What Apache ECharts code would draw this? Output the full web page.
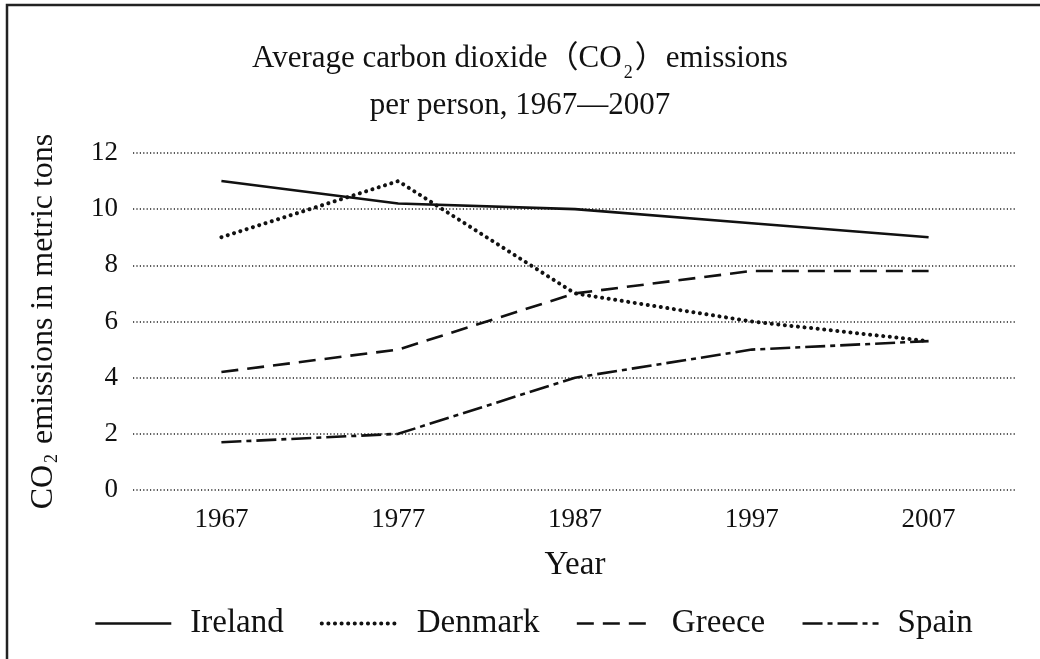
<!DOCTYPE html>
<html><head><meta charset="utf-8">
<script src="https://cdn.jsdelivr.net/npm/echarts@6/dist/echarts.min.js"></script>
<style>html,body{margin:0;padding:0;background:#fff}#c{width:1040px;height:659px}</style>
</head><body><div id="c"></div>
<script>
const years = ['1967', '1977', '1987', '1997', '2007'];
const ireland = [11.0, 10.2, 10.0, 9.5, 9.0];
const denmark = [9.0, 11.0, 7.0, 6.0, 5.3];
const greece = [4.2, 5.0, 7.0, 7.8, 7.8];
const spain = [1.7, 2.0, 4.0, 5.0, 5.3];
const yTicks = [0, 2, 4, 6, 8, 10, 12];

const FONT = '"Liberation Serif", "Noto Sans CJK JP", serif';
const chart = echarts.init(document.getElementById('c'), null, {renderer: 'canvas'});
const lineCommon = {type: 'line', symbol: 'none', silent: true, z: 3};
chart.setOption({
  animation: false,
  backgroundColor: '#fff',
  title: {
    text: 'Average carbon dioxide（CO{sub|2}）emissions\nper person, 1967—2007',
    left: 'center', top: 30,
    textStyle: {
      fontFamily: FONT, fontSize: 31, fontWeight: 'normal', color: '#111', lineHeight: 47,
      rich: {sub: {fontFamily: FONT, fontSize: 18, verticalAlign: 'bottom', padding: [16, 2, 0, 2], color: '#111'}}
    }
  },
  legend: {
    left: 94, top: 607, padding: 0,
    itemWidth: 76, itemHeight: 14, itemGap: 36,
    itemStyle: {opacity: 0, color: 'transparent', borderWidth: 0},
    lineStyle: {width: 'inherit'},
    textStyle: {fontFamily: FONT, fontSize: 33, color: '#111', padding: [0, 0, 0, 14]},
    data: ['Ireland', 'Denmark', 'Greece', 'Spain']
  },
  grid: {left: 133, right: 23, top: 153, bottom: 169},
  xAxis: {
    type: 'category', data: years, boundaryGap: true,
    axisLine: {show: false}, axisTick: {show: false},
    axisLabel: {fontFamily: FONT, fontSize: 27, color: '#111', margin: 16},
    name: 'Year', nameLocation: 'middle', nameGap: 59,
    nameTextStyle: {fontFamily: FONT, fontSize: 33, color: '#111', verticalAlign: 'top'}
  },
  yAxis: {
    type: 'value', min: yTicks[0], max: yTicks[yTicks.length - 1], interval: 2,
    axisLine: {show: false}, axisTick: {show: false},
    axisLabel: {fontFamily: FONT, fontSize: 27, color: '#111', margin: 15},
    splitLine: {show: true, lineStyle: {color: '#222', width: 1.6, type: [1.2, 2.2]}},
    name: 'CO{sub|2} emissions in metric tons', nameLocation: 'middle', nameGap: 72,
    nameTextStyle: {
      fontFamily: FONT, fontSize: 32, color: '#111',
      rich: {sub: {fontFamily: FONT, fontSize: 18, verticalAlign: 'bottom', padding: [16, 2, 0, 2], color: '#111'}}
    }
  },
  series: [
    Object.assign({}, lineCommon, {name: 'Ireland', data: ireland, lineStyle: {color: '#111', width: 2.6, type: 'solid'}, itemStyle: {color: '#111'}}),
    Object.assign({}, lineCommon, {name: 'Denmark', data: denmark, lineStyle: {color: '#111', width: 4, type: [0.1, 6.5], cap: 'round'}, itemStyle: {color: '#111'}}),
    Object.assign({}, lineCommon, {name: 'Greece', data: greece, lineStyle: {color: '#111', width: 2.6, type: [17, 9]}, itemStyle: {color: '#111'}}),
    Object.assign({}, lineCommon, {name: 'Spain', data: spain, lineStyle: {color: '#111', width: 2.6, type: [20, 5, 5, 5]}, itemStyle: {color: '#111'}})
  ],
  graphic: [
    {type: 'polyline', silent: true, shape: {points: [[7, 659], [7, 5], [1040, 5]]}, style: {stroke: '#222', lineWidth: 2.5, fill: null}}
  ]
});
</script></body></html>
